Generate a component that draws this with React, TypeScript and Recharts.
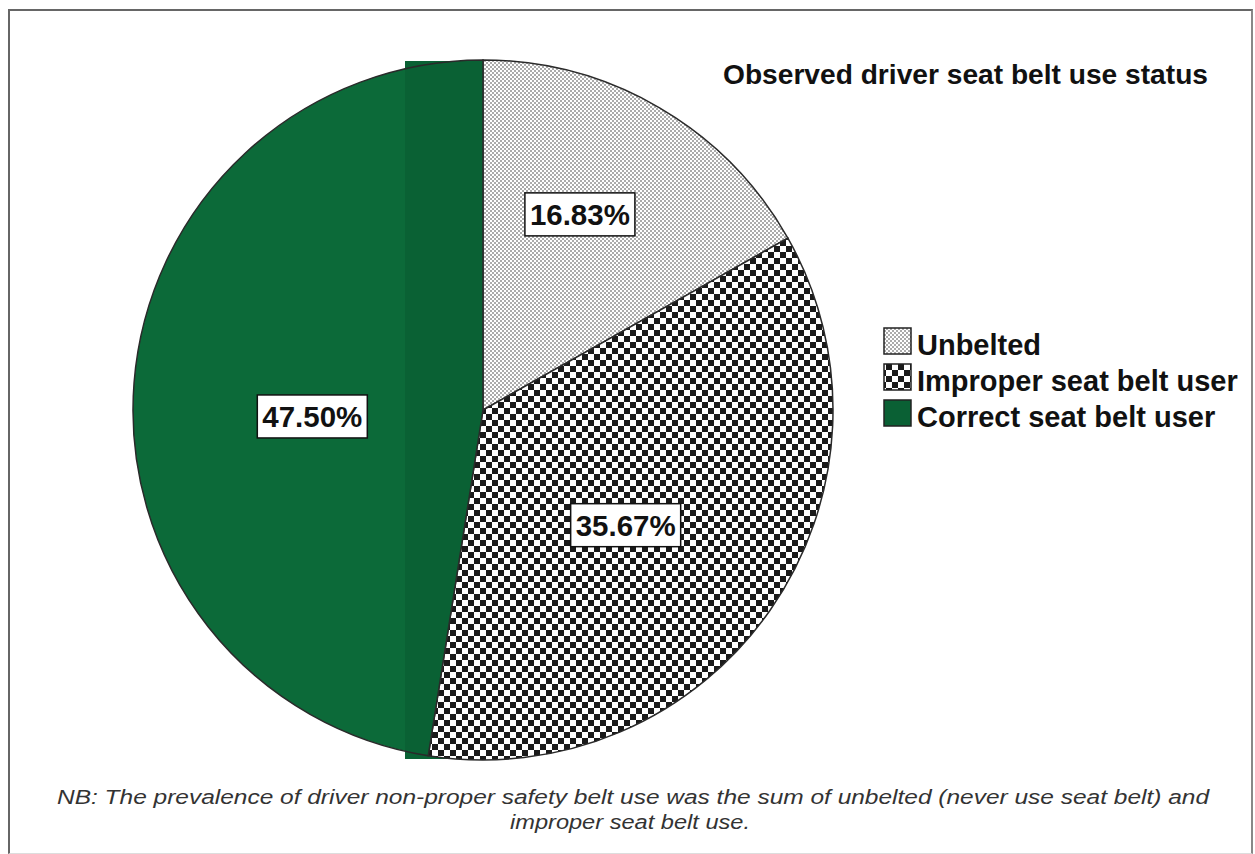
import { Cell, Legend, Pie, PieChart } from "recharts";

const categories = ["Unbelted", "Improper seat belt user", "Correct seat belt user"];
const shares = [16.83, 35.67, 47.5];
const chartTitle = "Observed driver seat belt use status";
const noteLines = [
  "NB: The prevalence of driver non-proper safety belt use was the sum of  unbelted (never use seat belt) and",
  "improper seat belt use."
];

const fills = ["url(#dotsFill)", "url(#checkFill)", "url(#greenFill)"];
const legendFills = ["url(#dotsFill)", "url(#checkFill)", "#0a6034"];
// label placement: fraction of radius and angle nudge (degrees, clockwise)
const labelRadius = [0.625, 0.523, 0.488];
const labelNudge = [-4, 4, -6.5];

const CX = 483;
const CY = 410;
const R = 350;
const RAD = Math.PI / 180;

const data = categories.map((name, i) => ({ name, value: shares[i] }));

const renderLabel = (props: any) => {
  const { cx, cy, midAngle, outerRadius, index, value } = props;
  const r = outerRadius * labelRadius[index];
  const a = (midAngle - labelNudge[index]) * RAD;
  const x = cx + r * Math.cos(-a);
  const y = cy + r * Math.sin(-a);
  return (
    <g>
      <rect x={x - 55} y={y - 21} width={110} height={43} fill="#fff" stroke="#111" strokeWidth={1.5} />
      <text
        x={x}
        y={y + 11}
        textAnchor="middle"
        fontSize={30}
        fontWeight="bold"
        fontFamily="'Liberation Sans', Arial, sans-serif"
        textLength={100}
        lengthAdjust="spacingAndGlyphs"
        fill="#111"
      >
        {Number(value).toFixed(2)}%
      </text>
    </g>
  );
};

const renderLegend = (props: any) => {
  const payload = props.payload || [];
  const ordered = categories
    .map((c) => payload.find((p: any) => p.value === c))
    .filter(Boolean);
  return (
    <svg width={375} height={120}>
      {ordered.map((p: any, i: number) => (
        <g key={p.value}>
          <rect x={4} y={6 + 36 * i} width={27} height={26} fill={legendFills[i]} stroke="#222" strokeWidth={1.5} />
          <text
            x={37}
            y={33 + 36 * i}
            fontSize={29}
            fontWeight="bold"
            fontFamily="'Liberation Sans', Arial, sans-serif"
            fill="#111"
          >
            {p.value}
          </text>
        </g>
      ))}
    </svg>
  );
};

const App = () => {
  return (
    <div style={{ position: "absolute", left: 0, top: 0, width: 1255, height: 854, background: "#fff" }}>
      <div
        style={{
          position: "absolute",
          left: 8,
          top: 9,
          width: 1241,
          height: 842,
          borderTop: "2px solid #666",
          borderLeft: "2px solid #666",
          borderRight: "2px solid #888",
          borderBottom: "1px solid #ddd"
        }}
      />
      <PieChart
        width={1255}
        height={854}
        margin={{ top: 0, right: 0, bottom: 0, left: 0 }}
        style={{ position: "absolute", left: 0, top: 0 }}
      >
        <defs>
          <pattern id="dotsFill" width={4} height={4} patternUnits="userSpaceOnUse">
            <rect width={4} height={4} fill="#fff" />
            <rect x={0} y={0} width={2} height={2} fill="#ababab" />
            <rect x={2} y={2} width={2} height={2} fill="#ababab" />
          </pattern>
          <pattern id="checkFill" width={12} height={12} patternUnits="userSpaceOnUse">
            <rect width={12} height={12} fill="#fff" />
            <rect x={0} y={0} width={6} height={6} fill="#1a1a1a" />
            <rect x={6} y={6} width={6} height={6} fill="#1a1a1a" />
          </pattern>
          <pattern id="greenFill" x={0} y={0} width={1255} height={854} patternUnits="userSpaceOnUse">
            <rect width={1255} height={854} fill="#0c6a39" />
            <rect x={CX - 78} y={0} width={78} height={854} fill="#0a6134" />
          </pattern>
        </defs>
        <rect x={CX - 78} y={CY - R + 1} width={78} height={2 * R - 2} fill="#0a6134" />
        <Pie
          data={data}
          dataKey="value"
          nameKey="name"
          cx={CX}
          cy={CY}
          outerRadius={R}
          startAngle={90}
          endAngle={-270}
          stroke="#2a2a2a"
          strokeWidth={1.5}
          label={renderLabel}
          labelLine={false}
          isAnimationActive={false}
        >
          {data.map((d, i) => (
            <Cell key={d.name} fill={fills[i]} />
          ))}
        </Pie>
        <Legend
          content={renderLegend}
          wrapperStyle={{ position: "absolute", left: 880, top: 322, width: 375, bottom: "auto", right: "auto" }}
        />
        <text
          x={723}
          y={84}
          fontSize={28}
          fontWeight="bold"
          fontFamily="'Liberation Sans', Arial, sans-serif"
          fill="#111"
          textLength={485}
          lengthAdjust="spacingAndGlyphs"
        >
          {chartTitle}
        </text>
        <text
          x={633}
          y={804}
          textAnchor="middle"
          fontSize={20}
          fontStyle="italic"
          fontFamily="'Liberation Sans', Arial, sans-serif"
          fill="#333"
          textLength={1152}
          lengthAdjust="spacingAndGlyphs"
        >
          {noteLines[0]}
        </text>
        <text
          x={630}
          y={829}
          textAnchor="middle"
          fontSize={20}
          fontStyle="italic"
          fontFamily="'Liberation Sans', Arial, sans-serif"
          fill="#333"
          textLength={240}
          lengthAdjust="spacingAndGlyphs"
        >
          {noteLines[1]}
        </text>
      </PieChart>
    </div>
  );
};

export default App;
